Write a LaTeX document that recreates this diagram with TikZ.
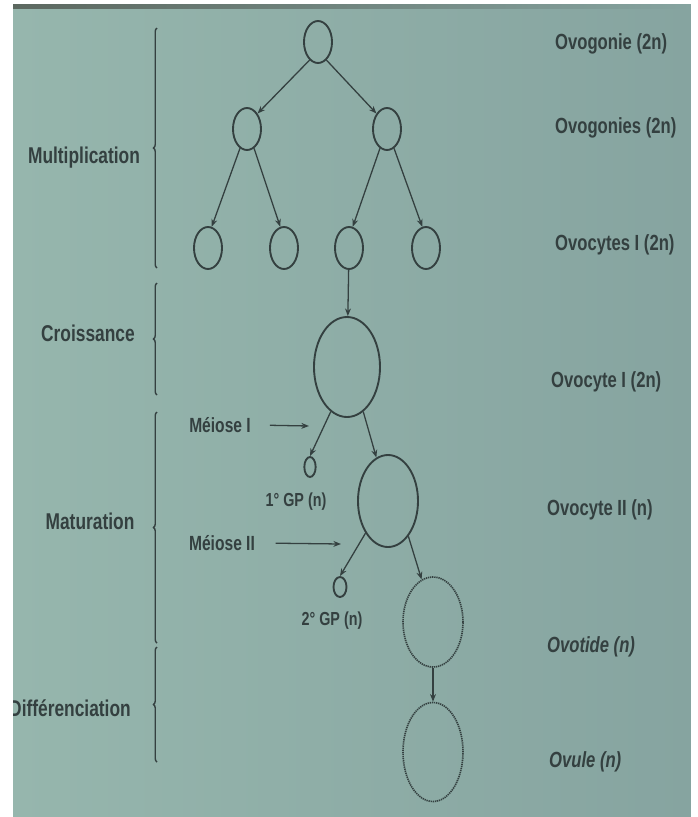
\documentclass[tikz,border=0pt]{standalone}
\usepackage{fontspec}
\newfontfamily\slidefont[FakeStretch=0.76]{Liberation Sans}
\usetikzlibrary{arrows.meta,shapes.geometric,decorations.pathreplacing}
\definecolor{ink}{RGB}{52,64,64}
\definecolor{slideL}{RGB}{150,182,173}
\definecolor{slideR}{RGB}{134,164,160}
\definecolor{rim}{RGB}{92,104,96}
\tikzset{
  cell/.style={ellipse,draw=ink,line width=1.6pt,inner sep=0pt},
  small/.style={cell,minimum width=8.4mm,minimum height=12.6mm},
  ghost/.style={cell,line width=1.4pt,dash pattern=on 1.1pt off 0.7pt},
  arr/.style={-{Stealth[length=6.5pt,width=5pt]},draw=ink,line width=1.1pt},
  phase/.style={text=ink,font=\slidefont\bfseries\fontsize{19.5}{21}\selectfont},
  stage/.style={text=ink,anchor=west,font=\slidefont\bfseries\fontsize{18.7}{20}\selectfont},
  side/.style={text=ink,font=\slidefont\bfseries\fontsize{17.5}{19}\selectfont},
  gp/.style={text=ink,font=\slidefont\bfseries\fontsize{16.1}{18}\selectfont},
  bracket/.style={draw=ink,line width=1.2pt,decorate,decoration={brace,amplitude=3pt,aspect=0.5}},
}
\begin{document}
\begin{tikzpicture}[x=0.3mm,y=-0.3mm]
  \useasboundingbox (0,0) rectangle (698,817);
  % slide background
  \fill[white] (0,0) rectangle (698,817);
  \shade[left color=slideL,right color=slideR] (13,4) rectangle (691,817);
  \shade[left color=rim,right color=slideR] (13,4) rectangle (691,8);

  % cells
  \node[small] (o1) at (318,42) {};
  \node[small] (o2a) at (247,129) {};
  \node[small] (o2b) at (387,129) {};
  \node[small] (o3a) at (208,248) {};
  \node[small] (o3b) at (284,248) {};
  \node[small] (o3c) at (349,248) {};
  \node[small] (o3d) at (426,248) {};
  \node[cell,minimum width=19.8mm,minimum height=30mm] (ovc1) at (347,367) {};
  \node[cell,minimum width=3.4mm,minimum height=6mm] (gp1) at (310,467) {};
  \node[cell,minimum width=18mm,minimum height=27.6mm] (ovc2) at (388,501) {};
  \node[cell,minimum width=3.9mm,minimum height=6mm] (gp2) at (340,587) {};
  \node[ghost,minimum width=18mm,minimum height=27mm] (ovt) at (433,622) {};
  \node[ghost,minimum width=18mm,minimum height=29.7mm] (ovl) at (433,752) {};

  \path (o1.245) edge[arr] (o2a.north east)
        (o1.295) edge[arr] (o2b.north west)
        (o2a.250) edge[arr] (o3a.80)
        (o2a.290) edge[arr] (o3b.100)
        (o2b.250) edge[arr] (o3c.80)
        (o2b.290) edge[arr] (o3d.100)
        (o3c) edge[arr] (ovc1)
        (ovc1.250) edge[arr] (gp1.north)
        (ovc1.290) edge[arr] (ovc2.105)
        (ovc2.235) edge[arr] (gp2.north)
        (ovc2.300) edge[arr] (ovt.105)
        (ovt) edge[arr] (ovl);

  % meiosis pointers
  \node[side] (mI) at (220,425) {Méiose I};
  \node[side] (mII) at (222,543) {Méiose II};
  \coordinate (mItip) at (309,426);
  \coordinate (mIItip) at (341,544);
  \draw[arr,shorten <=4.5mm] (mI.east) -- (mItip);
  \draw[arr,shorten <=5mm] (mII.east) -- (mIItip);
  \node[gp] (gp1lbl) at (296,502) {1° GP (n)};
  \node[gp] (gp2lbl) at (332,621) {2° GP (n)};

  % phases
  \draw[bracket] (157,268) -- (157,28);
  \draw[bracket] (157,395) -- (157,283);
  \draw[bracket] (157,643) -- (157,412);
  \draw[bracket] (157,762) -- (157,647);
  \node[phase] (mult) at (84,158) {Multiplication};
  \node[phase] (crois) at (88,333) {Croissance};
  \node[phase] (matu) at (90,521) {Maturation};
  \node[phase] (diff) at (70,708) {Différenciation};

  % stages
  \node[stage] (s1) at (551,44) {Ovogonie (2n)};
  \node[stage] (s2) at (551,128) {Ovogonies (2n)};
  \node[stage] (s3) at (551,245) {Ovocytes I (2n)};
  \node[stage] (s4) at (547,382) {Ovocyte I (2n)};
  \node[stage] (s5) at (543,510) {Ovocyte II (n)};
  \node[stage] (s6) at (543,647) {\itshape Ovotide (n)};
  \node[stage] (s7) at (545,762) {\itshape Ovule (n)};

  % photo edges
  \fill[white] (0,0) rectangle (13,817);
  \fill[white] (691,0) rectangle (698,817);
  \fill[white] (0,0) rectangle (698,4);
\end{tikzpicture}
\end{document}
